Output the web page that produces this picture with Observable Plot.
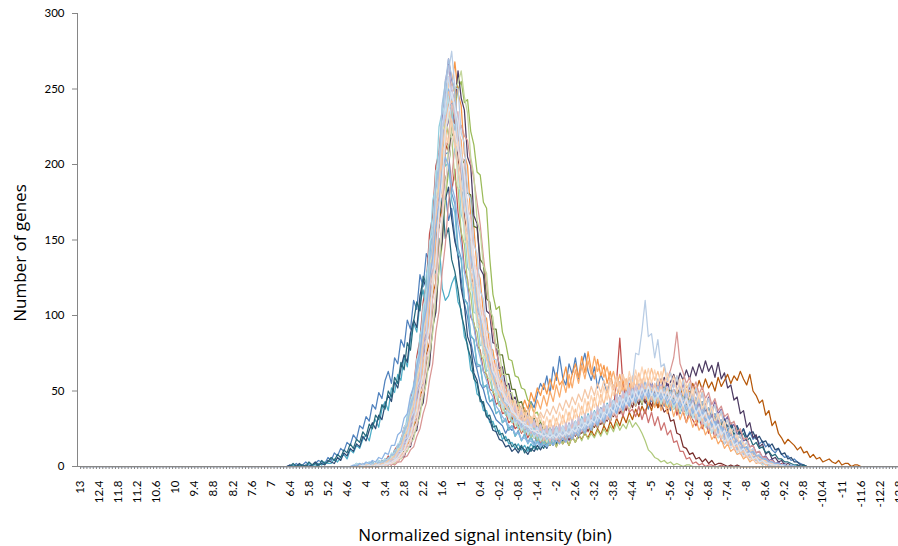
<!DOCTYPE html>
<html>
<head>
<meta charset="utf-8">
<script src="https://cdn.jsdelivr.net/npm/d3@7"></script>
<script src="https://cdn.jsdelivr.net/npm/@observablehq/plot@0.6"></script>
<style>
  body { margin: 0; background: #fff; }
  #chart svg { overflow: hidden; }
</style>
</head>
<body>
<div id="chart"></div>
<script>
// Signal-intensity bins run from 13 down to -12.8 in steps of 0.1
const bins = d3.range(259).map(i => +(13 - i / 10).toFixed(1));

// Labelled bins on the category axis
const tickLabels = [13, 12.4, 11.8, 11.2, 10.6, 10, 9.4, 8.8, 8.2, 7.6, 7, 6.4, 5.8, 5.2, 4.6, 4, 3.4, 2.8, 2.2, 1.6, 1, 0.4,
  -0.2, -0.8, -1.4, -2, -2.6, -3.2, -3.8, -4.4, -5, -5.6, -6.2, -6.8, -7.4, -8, -8.6, -9.2, -9.8, -10.4, -11, -11.6, -12.2, -12.8];
const yTicks = [0, 50, 100, 150, 200, 250, 300];

// Gene counts per bin for each sample; bins outside a sample's run hold 0.
// start = first bin of the run
const s01 = { start: 6.4, counts: [
  1,0,2,0,1,3,1,0,2,4, 3,2,6,4,9,7,12,10,16,14,
  21,18,27,25,33,30,41,38,49,45, 57,63,55,72,68,84,79,97,91,110,
  104,127,119,141,136,158,149,174,166,181, 163,171,152,139,124,108,99,83,72,64,
  55,51,43,40,36,31,29,27,22,26, 24,29,27,33,30,37,43,39,48,55,
  51,60,48,66,57,73,59,54,68,61, 72,58,67,75,63,57,66,52,61,56,
  49,58,53,45,56,48,52,44,50,47, 41,49,44,38,47,42,50,39,45,43,
  37,44,40,35,42,38,33,41,36,39, 31,37,34,28,35,30,27,32,26,29,
  24,27,21,25,19,23,18,20,15,17, 13,15,11,9,12,8,6,7,4,5, 3,2,1] };
const s02 = { start: 4.4, counts: [
  0,1,0,2,1,0,3,1,2,4, 3,7,5,11,14,17,26,29,44,52,
  73,84,109,121,154,166,199,208,232,214, 209,182,197,168,155,131,124,99,95,80,
  77,63,61,51,50,41,43,35,36,29, 31,25,27,22,26,19,23,20,17,21,
  18,22,16,20,24,17,21,25,19,23, 27,20,25,29,23,31,26,34,28,36,
  33,41,38,57,85,54,46,55,43,51, 48,56,44,53,49,41,54,46,40,47,
  39,45,34,41,36,29,37,31,27,33, 25,30,22,27,19,24,17,15,19,13,
  14,10,12,7,9,5,6,4,3,4, 2,3,1,1,0,2,0,1,0,0, 0,0,0] };
const s03 = { start: 4.4, counts: [
  0,0,1,0,0,1,0,2,0,1, 2,1,3,4,4,7,8,13,15,22,
  27,38,45,61,70,91,104,131,147,178, 195,224,237,250,255,241,243,222,213,195,
  193,175,171,138,114,104,106,89,82,71, 70,60,59,52,51,44,42,35,36,29,
  28,23,26,20,24,19,22,17,21,18, 23,19,24,21,27,22,29,25,31,27,
  34,30,37,33,39,36,43,38,46,41, 48,43,51,45,53,47,50,44,52,46,
  49,43,47,40,46,38,43,36,41,33, 38,30,34,27,29,24,26,19,21,15,
  17,11,13,8,9,5,6,3,4,2, 2,1,1,0,1,0,0,0,0,0, 0,0,0] };
const s04 = { start: 4.4, counts: [
  0,1,0,0,1,0,2,0,1,2, 1,4,2,6,8,9,16,19,30,35,
  50,58,80,91,119,135,170,189,230,247, 270,256,249,219,208,176,166,137,128,104,
  99,81,78,65,62,52,51,43,42,36, 36,30,31,26,27,23,24,20,23,18,
  21,17,20,16,22,18,19,23,17,21, 24,19,26,22,28,24,31,27,35,30,
  38,33,41,36,44,39,47,42,49,44, 52,46,54,47,56,49,53,58,51,55,
  50,57,52,48,55,46,53,44,51,42, 49,40,46,37,43,35,38,30,33,26,
  28,21,23,17,18,13,14,9,10,6, 7,4,5,2,3,1,2,0,1,0, 1,0,0] };
const s05 = { start: 6.4, counts: [
  0,1,0,1,0,0,2,1,0,2, 1,3,2,2,5,3,6,8,5,11,
  9,14,12,18,21,17,27,31,26,38, 43,37,52,49,61,57,73,66,84,95,
  89,108,117,104,131,142,128,151,118,110, 113,121,126,109,104,86,81,64,61,48,
  46,37,37,29,30,23,24,18,20,15, 16,12,15,11,14,10,15,12,17,13,
  18,14,21,16,23,19,25,20,28,23, 30,24,33,27,35,29,37,32,39,34,
  42,36,44,38,47,41,48,43,50,45, 47,42,50,44,46,40,48,43,45,39,
  44,38,42,36,41,35,39,33,37,31, 34,29,32,26,28,23,26,20,22,18,
  19,14,16,11,13,9,10,6,7,4, 5,3,3,1,2,1,1,0,0,1, 0,0,0] };
const s06 = { start: 4.4, counts: [
  0,0,1,0,0,2,0,1,1,0, 2,1,4,3,7,6,13,14,24,27,
  40,46,65,74,101,114,146,161,198,212, 245,251,268,247,239,207,199,166,158,131,
  124,101,98,79,77,63,64,52,53,45, 46,39,42,37,44,38,49,43,52,47,
  55,48,58,51,62,54,57,66,52,61, 68,59,73,62,76,64,58,71,60,67,
  55,63,51,59,48,57,50,54,46,52, 44,51,47,42,49,45,40,48,43,39,
  46,41,37,44,38,35,41,33,37,30, 34,27,31,24,27,21,23,17,19,14,
  15,10,12,7,8,5,6,3,4,2, 2,1,2,0,1,0,0,1,0,0, 0,0,0] };
const s07 = { start: 6.4, counts: [
  1,0,0,2,0,1,0,1,3,1, 2,1,4,3,2,6,4,9,7,12,
  10,15,13,20,17,24,29,25,34,31, 41,47,43,56,52,65,74,69,88,97,
  92,113,124,118,141,152,147,171,190,177, 185,164,149,141,118,107,86,80,62,57,
  45,41,33,31,24,23,18,17,13,14, 10,12,9,13,11,8,12,10,14,11,
  15,12,17,14,19,16,21,18,23,20, 26,22,28,25,31,27,34,30,36,32,
  39,35,42,37,45,40,47,43,49,45, 51,46,48,52,44,50,45,49,43,47,
  41,46,39,44,40,43,37,42,35,40, 34,39,32,36,30,34,28,31,26,29,
  24,27,21,25,19,22,23,18,20,16, 17,13,15,11,12,8,9,5,6,3, 3,1,1] };
const s08 = { start: 4.4, counts: [
  0,0,1,0,0,1,0,2,1,0, 2,1,4,3,7,8,14,16,26,30,
  45,53,72,81,107,121,155,170,207,221, 245,232,228,203,193,165,155,126,120,97,
  93,75,74,60,60,48,49,40,41,33, 35,28,31,24,27,21,24,19,22,17,
  20,16,21,17,19,22,17,23,18,24, 20,26,22,28,24,30,26,33,28,35,
  30,37,33,39,35,42,37,44,39,46, 41,47,42,45,40,46,39,42,36,38,
  30,31,22,21,13,12,8,9,5,6, 3,5,2,4,1,2,2,1,0,1,
  0,1,0,0,0,0,0,0,0,0, 0,0,0,0,0,0,0,0,0,0, 0,0,0] };
const s09 = { start: 4.4, counts: [
  0,0,1,0,1,0,0,2,1,1, 3,1,4,5,4,9,10,16,17,27,
  30,44,49,68,76,102,113,146,157,190, 198,221,214,218,199,203,181,180,159,158,
  137,134,111,109,91,91,74,74,61,61, 51,51,42,43,36,37,31,32,27,29,
  24,26,21,24,19,23,18,22,20,19, 24,20,26,23,28,24,30,26,31,28,
  35,30,37,33,40,35,43,38,45,40, 47,41,49,44,50,45,52,46,54,47,
  52,45,50,43,49,41,47,39,45,37, 43,35,39,31,34,28,29,23,25,19,
  20,14,16,10,12,7,8,4,5,2, 3,1,2,0,1,1,0,0,0,0, 0,0,0] };
const s10 = { start: 4.4, counts: [
  0,0,0,1,0,0,1,0,0,2, 0,2,1,4,3,7,6,13,13,22,
  24,38,42,61,67,93,102,137,149,187, 199,234,240,262,244,236,205,199,166,161,
  131,127,103,101,82,81,65,66,53,55, 44,46,37,40,32,35,28,31,25,28,
  21,25,20,26,21,25,19,24,22,21, 26,21,28,24,30,26,33,29,35,31,
  38,32,41,35,43,38,46,40,48,42, 51,44,53,47,55,50,57,51,59,53,
  56,61,54,62,57,64,58,66,60,68, 62,70,63,67,59,69,58,62,52,54,
  44,46,35,37,26,29,19,21,13,15, 8,10,5,6,3,4,1,2,1,0, 1,0,0] };
const s11 = { start: 6.4, counts: [
  0,2,0,1,1,0,3,1,2,0, 4,2,3,6,4,8,6,11,9,15,
  12,18,16,23,20,28,25,34,31,41, 38,50,46,59,55,69,64,82,77,96,
  109,103,126,121,143,138,164,158,178,151, 158,137,129,117,101,92,79,72,58,55,
  43,43,33,34,26,27,21,22,17,18, 13,15,11,14,9,13,10,14,11,15,
  12,17,14,19,15,21,17,23,19,25, 21,27,24,30,26,32,29,35,31,37,
  33,39,36,42,38,44,40,47,42,49, 44,50,46,51,45,49,43,50,44,48,
  42,47,40,45,39,43,37,41,35,39, 33,37,31,34,28,32,26,29,24,27,
  21,25,19,22,17,19,14,16,12,13, 9,10,7,8,5,5,3,3,2,1, 1,0,1] };
const s12 = { start: 4.4, counts: [
  0,0,1,0,0,0,1,0,0,2, 0,2,1,4,3,8,8,15,16,28,
  30,47,51,74,82,113,122,162,171,209, 217,240,226,223,195,187,158,150,124,119,
  96,93,74,74,59,59,46,48,38,40, 31,34,26,30,22,27,19,24,17,22,
  15,21,14,20,13,19,15,18,14,20, 16,21,18,22,19,24,20,25,21,27,
  23,30,25,32,27,34,29,36,31,38, 33,40,35,43,37,45,39,47,41,49,
  43,51,45,52,47,54,48,55,49,57, 51,58,52,56,50,59,53,57,61,55,
  60,57,63,58,54,61,50,47,42,44, 34,37,27,30,22,19,15,18,16,14,
  11,13,9,10,6,8,5,6,3,4, 5,3,2,4,1,2,2,0,1,1, 0] };
const s13 = { start: 4.4, counts: [
  0,2,0,1,2,1,3,1,4,2, 5,4,8,7,14,15,25,27,41,47,
  66,74,98,110,141,154,188,199,225,207, 208,181,174,145,138,111,108,86,84,66,
  67,52,54,43,44,35,37,29,31,24, 27,20,24,17,22,16,20,15,21,14,
  19,16,21,17,22,18,24,19,26,21, 28,23,30,25,32,28,34,30,37,32,
  40,34,43,37,45,39,48,42,50,44, 47,52,45,50,43,48,42,47,40,45,
  39,44,37,42,36,40,33,38,30,35, 28,32,24,29,21,25,18,22,15,18,
  13,16,10,12,8,9,6,7,4,5, 3,3,2,1,2,0,1,0,1,0, 0,0,0] };
const s14 = { start: 4.4, counts: [
  0,0,1,0,1,0,0,2,0,1, 2,1,4,3,7,7,15,15,28,30,
  49,53,80,85,118,128,167,178,219,225, 248,240,239,212,202,172,164,133,129,103,
  100,80,79,63,63,50,52,41,44,34, 37,28,32,24,28,21,25,19,23,16,
  21,15,20,16,21,15,22,17,23,18, 25,20,27,22,29,24,31,26,33,28,
  35,30,37,32,40,33,42,36,38,33, 40,31,38,29,36,27,33,24,29,21,
  24,16,17,10,10,5,6,2,3,1, 2,0,1,1,0,0,1,0,0,0,
  0,0,0,0,0,0,0,0,0,0, 0,0,0,0,0,0,0,0,0,0, 0,0,0] };
const s15 = { start: 4.4, counts: [
  0,1,0,0,1,0,2,0,1,2, 1,4,2,6,6,11,13,21,24,37,
  44,62,72,98,111,146,158,197,205,230, 219,218,190,184,155,147,121,114,94,89,
  74,71,59,58,49,47,40,40,34,34, 29,30,25,27,22,24,19,22,17,20,
  15,18,14,19,13,18,15,19,14,20, 16,21,17,23,18,22,19,24,20,25,
  21,27,23,29,24,28,25,31,26,29, 26,22,17,11,9,6,5,3,4,2,
  3,1,2,1,0,1,1,0,0,0, 0,0,0,0,0,0,0,0,0,0,
  0,0,0,0,0,0,0,0,0,0, 0,0,0,0,0,0,0,0,0,0, 0,0,0] };
const s16 = { start: 4.4, counts: [
  0,0,0,1,0,1,0,0,2,0, 1,3,2,5,4,9,9,16,18,29,
  33,50,56,81,89,124,134,175,184,223, 228,240,223,219,193,184,155,147,121,116,
  95,90,74,72,60,59,49,49,41,42, 35,36,30,32,26,29,23,26,20,24,
  18,23,17,24,18,25,19,26,20,28, 22,29,24,31,26,33,28,35,30,37,
  32,40,35,43,37,46,39,48,42,50, 44,52,46,55,47,53,45,54,44,52,
  43,51,41,49,39,47,37,45,35,42, 33,39,29,35,26,31,22,27,19,23,
  15,19,12,15,9,11,6,8,4,5, 2,4,1,2,1,1,0,1,0,0, 0,0,0] };
const s17 = { start: 4.4, counts: [
  0,1,2,0,1,3,1,2,4,2, 5,4,8,7,13,15,23,27,40,45,
  64,72,97,106,139,148,185,190,215,199, 201,176,168,141,137,111,107,87,84,68,
  67,53,54,43,45,35,37,29,32,24, 27,20,23,17,21,15,19,14,17,13,
  17,14,19,15,20,16,22,18,24,19, 26,21,28,23,30,25,33,27,35,29,
  38,32,40,34,43,37,45,39,48,41, 50,43,51,44,49,45,52,43,50,42,
  47,40,45,38,43,36,41,34,39,31, 36,28,32,25,29,22,25,19,21,16,
  17,12,14,9,11,7,8,5,6,3, 4,2,3,1,2,0,1,0,0,1, 0,0,0] };
const s18 = { start: 4.4, counts: [
  0,0,1,0,0,1,0,1,2,0, 2,1,4,3,7,7,13,14,25,28,
  43,50,70,79,108,118,157,167,212,221, 258,247,251,221,216,181,176,143,139,112,
  107,86,85,69,69,56,57,47,49,41, 43,36,40,33,39,32,41,35,44,38,
  47,40,50,43,54,46,57,49,61,52, 64,55,67,58,70,61,73,63,68,59,
  66,56,63,53,61,50,58,48,56,45, 53,43,50,41,48,39,46,37,44,35,
  42,33,40,31,37,29,34,26,31,24, 28,21,25,18,21,15,18,12,15,10,
  12,8,9,5,7,3,5,2,3,1, 2,0,1,1,0,0,1,0,0,0, 0,0,0] };
const s19 = { start: 4.4, counts: [
  0,1,0,0,2,0,1,1,0,3, 1,4,3,7,6,13,13,23,24,39,
  44,65,71,100,110,147,156,200,212,246, 250,243,233,211,200,171,164,133,129,103,
  101,80,80,63,64,50,53,41,45,34, 38,29,33,25,30,22,27,19,25,18,
  24,17,23,16,24,18,25,19,26,21, 28,23,30,25,33,27,35,30,38,32,
  41,35,44,37,47,40,49,43,52,45, 55,47,57,48,55,50,58,49,56,48,
  54,46,52,44,51,42,49,40,46,37, 43,34,39,30,35,26,31,22,26,18,
  21,14,17,10,13,7,9,5,6,3, 4,1,3,1,1,0,1,0,1,0, 0,0,0] };
const s20 = { start: 4.4, counts: [
  0,0,0,1,0,0,0,1,0,1, 0,1,2,1,3,3,6,7,11,13,
  20,25,35,42,57,68,89,103,129,147, 175,191,212,220,226,219,216,201,190,175,
  160,139,121,102,90,76,68,58,53,46, 43,37,36,31,31,27,27,23,24,20,
  21,18,20,17,20,16,21,17,22,18, 23,20,26,22,28,24,30,26,32,28,
  34,30,37,32,40,35,42,37,45,40, 48,42,50,45,53,47,55,49,57,58,
  64,72,89,68,62,55,59,51,56,48, 53,45,49,41,45,37,40,33,35,28,
  30,23,25,18,19,13,14,9,10,6, 6,3,4,2,2,1,1,0,1,0, 0,0,0] };
const s21 = { start: 4.4, counts: [
  0,0,0,0,1,0,0,1,0,1, 1,1,3,2,5,5,9,10,16,18,
  28,33,47,55,74,88,113,130,161,181, 212,227,250,254,262,245,234,205,193,163,
  155,133,128,104,99,79,77,61,61,49, 49,40,42,33,36,28,32,25,29,22,
  26,20,24,19,23,18,25,19,26,20, 27,21,29,23,31,25,33,27,35,29,
  37,31,40,34,42,36,45,38,47,41, 49,42,51,44,53,46,50,44,52,45,
  49,42,48,40,46,38,44,36,41,33, 38,30,34,26,30,22,26,19,21,15,
  17,11,13,8,9,5,6,3,4,2, 2,1,1,0,1,0,0,0,0,0, 0,0,0] };
const s22 = { start: 4.4, counts: [
  0,0,1,0,1,0,2,0,1,2, 1,4,2,7,6,12,12,22,23,39,
  42,65,70,100,109,148,155,203,213,256, 265,249,242,214,204,173,165,137,130,106,
  103,83,81,65,65,52,54,43,46,36, 40,31,35,27,32,24,29,22,27,20,
  25,19,26,20,27,21,27,22,29,23, 30,24,32,26,34,28,36,31,39,33,
  41,35,44,38,47,41,50,43,53,46, 54,47,52,45,55,46,53,44,52,43,
  50,41,48,39,46,37,44,35,42,33, 39,30,35,26,31,23,27,19,23,16,
  19,12,15,9,11,7,8,4,6,3, 4,2,3,1,2,0,1,0,1,0, 0,0,0] };
const s23 = { start: 4.4, counts: [
  0,2,0,1,2,0,3,1,2,4, 2,6,5,11,10,19,20,34,35,55,
  61,87,95,127,137,176,185,225,235,255, 241,237,208,199,167,160,132,128,102,101,
  80,81,63,65,50,53,41,45,34,39, 29,34,25,31,22,28,20,26,18,24,
  17,23,18,24,19,25,20,27,22,29, 24,31,26,33,28,36,30,38,33,41,
  35,43,38,46,40,48,42,51,44,53, 46,54,47,53,45,52,44,51,43,50,
  41,48,39,46,37,44,35,41,32,38, 29,35,26,31,23,27,19,23,16,19,
  13,15,10,12,7,9,5,6,3,4, 2,3,1,2,0,1,0,1,0,0, 0,0,0] };
const s24 = { start: 4.4, counts: [
  0,0,1,0,0,2,0,1,1,0, 2,1,4,3,8,7,14,14,25,27,
  43,47,71,77,108,115,155,163,207,215, 248,241,244,215,211,177,173,141,137,111,
  108,87,86,70,70,56,59,46,50,40, 44,34,39,30,36,27,33,26,31,24,
  30,23,31,24,32,25,34,27,36,29, 38,31,40,33,43,36,46,38,48,41,
  51,43,53,46,56,48,58,50,60,52, 62,54,64,56,65,57,63,55,66,56,
  62,53,60,51,58,49,56,46,53,43, 50,39,45,35,41,31,36,26,31,22,
  26,18,21,13,16,9,11,6,7,4, 4,2,3,1,1,0,1,0,0,0, 0,0,0] };
const s25 = { start: 4.4, counts: [
  0,1,0,0,2,0,1,2,0,3, 2,5,4,9,8,16,16,29,30,48,
  53,79,83,114,119,157,163,207,215,251, 262,275,251,250,221,214,182,177,147,141,
  116,111,90,88,71,71,57,60,46,51, 38,44,32,38,27,34,24,31,21,28,
  19,26,18,25,17,24,18,26,19,28, 21,30,23,32,25,34,27,36,29,38,
  31,41,34,44,37,49,45,58,56,75, 74,90,110,86,88,72,84,66,68,57,
  62,52,60,49,57,46,55,44,52,42, 49,38,45,35,41,31,37,27,31,23,
  26,18,21,14,16,10,12,7,8,5, 5,3,3,1,2,1,1,0,1,0, 0,0,0] };
const s26 = { start: 4.4, counts: [
  0,0,0,1,0,0,1,0,1,0, 1,2,1,4,3,7,7,14,14,26,
  27,45,48,73,78,111,119,160,168,212, 216,240,232,235,206,202,170,166,134,131,
  103,103,81,83,64,68,51,56,43,49, 34,42,29,37,25,33,22,30,20,27,
  17,25,16,25,17,26,18,27,19,28, 21,30,23,32,25,34,27,37,29,39,
  31,42,34,45,37,48,40,50,42,52, 44,53,45,54,44,52,43,51,42,50,
  40,48,38,46,36,44,34,41,31,38, 28,35,25,31,21,27,18,23,15,19,
  11,15,8,11,6,8,4,5,2,3, 1,2,1,1,0,1,0,0,0,0, 0,0,0] };
const s27 = { start: 4.4, counts: [
  0,1,0,2,0,1,2,0,2,1, 4,3,7,5,12,11,21,22,37,40,
  60,64,93,97,134,140,180,185,226,222, 235,218,219,185,183,150,147,117,117,92,
  93,72,74,56,60,45,50,37,43,31, 37,27,32,23,29,21,27,19,25,17,
  23,16,22,17,23,18,24,19,25,20, 27,22,29,24,31,26,34,28,36,30,
  39,33,41,35,44,38,46,40,48,42, 50,44,51,43,50,42,49,41,48,40,
  47,38,45,36,43,34,41,32,38,29, 35,26,32,22,28,19,24,16,20,13,
  16,10,12,7,9,5,6,3,4,2, 2,1,1,0,1,0,0,1,0,0, 0,0,0] };
const s28 = { start: 4.4, counts: [
  0,0,1,0,0,1,0,2,0,1, 2,1,5,3,9,8,16,16,29,31,
  50,54,80,84,120,126,169,174,225,231, 245,252,234,232,198,194,160,156,124,122,
  95,97,74,77,58,63,47,53,39,46, 33,40,28,36,25,33,23,30,21,28,
  19,27,18,27,19,28,20,29,22,31, 24,33,26,35,28,37,30,40,33,42,
  35,45,38,48,41,50,43,52,45,54, 46,55,47,57,48,55,46,54,45,53,
  43,51,41,49,39,46,36,43,33,40, 30,36,26,32,23,28,19,24,16,20,
  13,16,10,12,7,9,5,6,3,4, 2,3,1,2,0,1,0,1,0,0, 0,0,0] };
const s29 = { start: 4.4, counts: [
  0,2,0,1,1,3,1,2,4,2, 5,4,9,8,15,16,26,29,44,49,
  71,76,106,112,149,154,196,199,239,233, 245,228,226,194,189,156,153,122,121,96,
  95,75,76,59,62,47,52,39,45,32, 38,28,34,24,31,21,28,19,26,17,
  24,17,25,18,26,19,27,20,28,21, 30,23,32,25,34,27,36,29,38,31,
  41,34,44,37,46,39,49,41,51,44, 52,45,53,44,52,43,51,42,50,41,
  48,39,46,37,44,34,42,32,39,29, 36,26,32,22,28,19,24,15,20,12,
  16,9,12,7,9,5,6,3,4,1, 2,1,1,0,1,0,1,0,0,0, 0,0,0] };
const s30 = { start: 4.4, counts: [
  0,0,0,1,0,1,0,0,2,0, 1,3,2,5,4,9,9,17,17,30,
  33,52,56,83,89,126,132,175,181,222, 214,230,211,215,184,181,150,149,119,120,
  93,97,73,79,59,66,48,56,41,50, 36,44,33,41,30,38,28,36,27,34,
  25,33,26,34,27,36,28,38,30,40, 32,42,34,45,36,47,39,50,41,53,
  44,56,47,58,49,61,51,63,53,64, 55,66,56,65,55,64,54,63,53,62,
  51,60,49,58,47,55,44,52,41,49, 37,45,33,40,29,35,25,30,21,25,
  17,21,13,16,10,12,7,8,5,5, 3,3,2,1,1,1,0,1,0,0, 0,0,0] };
const s31 = { start: 4.4, counts: [
  0,1,0,0,1,2,0,1,2,1, 3,2,6,5,10,10,18,19,32,36,
  52,58,85,90,126,132,176,180,227,238, 258,244,240,209,203,170,163,131,127,101,
  98,79,78,62,63,49,52,40,44,34, 37,29,33,25,30,22,28,20,26,19,
  24,18,23,17,24,19,26,20,27,22, 29,23,31,25,33,28,36,30,38,32,
  41,34,43,37,46,39,48,41,50,43, 52,45,54,46,52,44,53,45,51,43,
  49,41,47,39,45,37,43,34,40,31, 37,28,33,24,29,20,25,16,21,13,
  17,10,13,7,9,5,6,3,4,2, 2,1,1,0,1,0,0,0,1,0, 0,0,0] };
const s32 = { start: 4.4, counts: [
  0,0,1,0,0,0,1,0,1,1, 0,2,2,3,5,6,9,12,17,22,
  30,39,51,63,79,97,118,140,164,187, 202,216,222,210,201,183,171,152,140,122,
  111,97,88,77,70,62,56,50,46,42, 39,34,33,29,29,26,26,23,24,21,
  22,19,21,18,22,19,23,20,24,21, 25,22,27,24,29,26,31,28,33,30,
  35,32,38,34,41,37,43,39,46,42, 48,44,50,45,49,46,51,44,50,43,
  48,42,46,40,44,38,41,35,38,32, 35,29,31,25,27,21,23,17,18,13,
  14,10,11,7,8,5,5,3,3,2, 2,1,1,0,0,1,0,0,0,0, 0,0,0] };
const s33 = { start: 4.4, counts: [
  0,1,0,2,0,1,2,1,3,2, 4,4,8,8,14,15,24,27,40,45,
  63,70,96,104,137,146,187,196,240,254, 270,258,247,224,207,181,167,140,129,107,
  99,82,77,65,61,52,50,43,42,36, 36,30,31,26,28,23,25,21,23,19,
  22,18,21,17,22,18,23,19,25,20, 26,22,28,24,30,26,33,28,35,30,
  38,33,41,35,43,38,46,40,48,43, 50,45,52,46,51,47,53,46,52,45,
  50,43,48,41,46,39,44,36,41,33, 38,30,34,26,30,22,26,18,21,14,
  17,11,13,8,9,6,6,4,4,2, 2,1,1,1,0,1,0,0,0,0, 0,0,0] };
const s34 = { start: 4.4, counts: [
  0,0,1,0,1,1,0,2,1,2, 2,4,5,7,10,13,19,24,33,41,
  54,66,82,99,120,141,164,187,210,226, 236,228,215,198,180,162,145,129,114,101,
  90,80,71,64,57,52,47,43,40,37, 35,33,31,34,30,33,29,34,31,36,
  32,38,34,40,35,42,37,44,39,46, 41,48,43,51,45,53,47,55,49,57,
  51,58,52,60,53,61,54,59,52,60, 51,58,50,57,48,55,47,53,45,52,
  43,50,41,47,39,45,36,42,33,39, 30,35,27,31,23,27,19,23,15,18,
  12,14,9,10,6,7,4,5,2,3, 1,2,1,0,1,0,0,0,0,0, 0,0,0] };
const s35 = { start: 4.4, counts: [
  1,0,2,1,3,2,4,3,6,5, 9,8,14,14,21,23,32,35,47,53,
  67,76,93,104,124,138,159,173,196,205, 199,186,178,160,147,129,118,101,92,80,
  72,63,57,50,46,40,37,33,30,27, 26,22,22,18,19,16,17,14,16,13,
  15,13,16,14,17,15,19,16,21,18, 23,20,26,22,28,24,31,27,33,29,
  36,32,39,35,42,37,44,40,47,42, 49,44,51,45,50,46,49,44,48,42,
  46,41,44,39,43,37,41,35,39,33, 36,30,33,27,30,24,27,21,23,18,
  20,15,16,12,13,9,10,7,7,5, 5,3,3,2,2,1,1,0,1,0, 0,0,0] };
const s36 = { start: 4.4, counts: [
  0,0,0,1,0,1,0,1,1,0, 2,2,3,4,6,9,11,17,21,30,
  38,51,61,80,94,120,137,168,190,222, 236,248,238,228,207,193,169,156,132,121,
  102,94,79,74,63,59,51,49,43,41, 36,35,31,30,27,27,24,24,22,22,
  20,21,19,21,19,22,20,23,21,25, 23,27,25,29,27,31,29,34,31,36,
  34,39,36,42,39,45,41,47,43,50, 45,52,47,53,47,52,46,51,45,50,
  44,49,42,47,40,45,38,42,35,39, 32,36,29,32,25,28,21,24,17,20,
  14,16,10,12,8,9,5,6,3,4, 2,2,1,1,0,1,0,0,0,0, 0,0,0] };

const samples = [s01, s02, s03, s04, s05, s06, s07, s08, s09, s10,
  s11, s12, s13, s14, s15, s16, s17, s18, s19, s20,
  s21, s22, s23, s24, s25, s26, s27, s28, s29, s30,
  s31, s32, s33, s34, s35, s36];

// Office-style series palette: base, darker, lighter and pastel tints
const sampleColors = [
  "#4F81BD", "#C0504D", "#9BBB59", "#8064A2", "#4BACC6", "#F79646",
  "#2C4D75", "#772C2A", "#5F7530", "#4D3B62", "#276A7C", "#B65708",
  "#729ACA", "#CD7371", "#AFC97A", "#9983B5", "#6FBDD1", "#F9AB6B",
  "#95B3D7", "#D99694", "#C3D69B", "#B3A2C7", "#93CDDD", "#FAC090",
  "#B9CDE5", "#E6B9B8", "#D7E4BD", "#CCC1DA", "#B7DEE8", "#FCD5B5",
  "#C6D9F1", "#F2DCDB", "#A5C0DF", "#F4C7A6", "#8EB4E3", "#DBE5F1"
];

// Long table: one row per sample per bin
const rows = [];
samples.forEach((s, k) => {
  const first = bins.indexOf(s.start);
  bins.forEach((b, i) => {
    const j = i - first;
    rows.push({ bin: b, count: j >= 0 && j < s.counts.length ? s.counts[j] : 0, sample: k });
  });
});

const axisGray = "#868686";
const titleFont = "'Open Sans', Lato, sans-serif";

const chart = Plot.plot({
  width: 898,
  height: 546,
  marginLeft: 77,
  marginRight: 0,
  marginTop: 13,
  marginBottom: 80,
  style: { fontFamily: "Lato, 'Liberation Sans', sans-serif", fontSize: "11.5px", color: "#000", background: "#fff" },
  x: { type: "point", domain: bins, range: [78.5, 900], axis: null },
  y: { domain: [0, 300], axis: null },
  color: { type: "ordinal", domain: d3.range(samples.length), range: sampleColors },
  marks: [
    Plot.line(rows, { x: "bin", y: "count", z: "sample", stroke: "sample",
      strokeWidth: 1.25, strokeLinejoin: "round" }),
    Plot.frame({ anchor: "left", stroke: axisGray }),
    Plot.frame({ anchor: "bottom", stroke: axisGray }),
    Plot.axisY(yTicks, { anchor: "left", tickSize: 5, tickPadding: 8, stroke: axisGray, fill: "#000", label: null }),
    Plot.axisX(bins, { anchor: "bottom", tickSize: 3, stroke: axisGray, fill: "none", label: null }),
    Plot.axisX(tickLabels, { anchor: "bottom", tickSize: 0, tickPadding: 14, tickRotate: -90,
      tickFormat: d => String(d), fill: "#000", label: null }),
    Plot.text(["Number of genes"], { frameAnchor: "left", rotate: -90, dx: -57, dy: 13,
      textAnchor: "middle", lineAnchor: "middle", fontSize: 17, fontFamily: titleFont, fill: "#000" }),
    Plot.text(["Normalized signal intensity (bin)"], { frameAnchor: "bottom", dx: -3, dy: 69,
      textAnchor: "middle", lineAnchor: "middle", fontSize: 17, fontFamily: titleFont, fill: "#000" })
  ]
});

document.getElementById("chart").appendChild(chart);
</script>
</body>
</html>
